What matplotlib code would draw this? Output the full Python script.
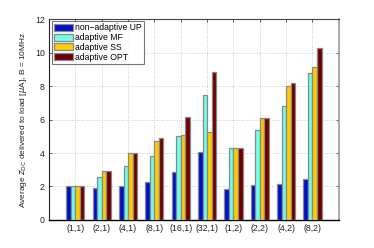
import numpy as np
import matplotlib
matplotlib.use("Agg")
import matplotlib.pyplot as plt

plt.rcParams['font.family'] = ['Liberation Sans', 'DejaVu Sans']

categories = ["(1,1)", "(2,1)", "(4,1)", "(8,1)", "(16,1)", "(32,1)",
              "(1,2)", "(2,2)", "(4,2)", "(8,2)"]
series_names = ["non\u2212adaptive UP", "adaptive MF", "adaptive SS", "adaptive OPT"]
nonadaptive_up = [2.0, 1.89, 2.0, 2.25, 2.85, 4.08, 1.85, 2.07, 2.15, 2.47]
adaptive_mf    = [2.0, 2.59, 3.2, 3.8, 5.01, 7.48, 4.32, 5.39, 6.79, 8.8]
adaptive_ss    = [2.0, 2.91, 4.02, 4.72, 5.09, 5.24, 4.32, 6.07, 7.98, 9.12]
adaptive_opt   = [2.0, 2.91, 4.02, 4.88, 6.15, 8.84, 4.32, 6.07, 8.16, 10.25]
colors = ["#0010C8", "#70FFEA", "#FFCC00", "#700000"]

fig = plt.figure(figsize=(3.74, 2.48), dpi=100)
ax = fig.add_axes([0.131, 0.113, 0.775, 0.81])

x = np.arange(1, len(categories) + 1)
w = 0.172
all_series = [nonadaptive_up, adaptive_mf, adaptive_ss, adaptive_opt]
for k, (vals, name, c) in enumerate(zip(all_series, series_names, colors)):
    ax.bar(x + (k - 1.5) * w, vals, w, color=c, edgecolor="#888888",
           linewidth=0.9, label=name, zorder=3)

ax.set_xlim(0, 11)
ax.set_ylim(0, 12)
ax.set_xticks(x)
ax.set_xticklabels(categories)
ax.set_yticks(np.arange(0, 13, 2))
ax.tick_params(labelsize=6.3, direction="in", length=2, width=0.5,
               top=True, right=True, colors="#222222", pad=3)
ax.grid(True, linestyle=(0, (1, 2)), color="#bbbbbb", linewidth=0.6, zorder=0)
ax.set_ylabel(r"Average $z_{\rm DC}$ delivered to load [$\mu$A], B = 10MHz",
              fontsize=6, color="#222222")

ax.spines["left"].set_color("#222222")
ax.spines["bottom"].set_color("#000000")
ax.spines["bottom"].set_linewidth(1.0)
ax.spines["top"].set_color("#444444")
ax.spines["right"].set_color("#999999")
ax.spines["right"].set_linewidth(1.2)

leg = ax.legend(loc="upper left", bbox_to_anchor=(0.009, 0.989), borderaxespad=0,
                fontsize=6.2, frameon=True, fancybox=False, handlelength=2.2,
                handleheight=0.85, handletextpad=0.3, labelspacing=0.08,
                borderpad=0.25)
leg.get_frame().set_edgecolor("#555555")
leg.get_frame().set_linewidth(0.8)

fig.savefig("out.png", dpi=100)
